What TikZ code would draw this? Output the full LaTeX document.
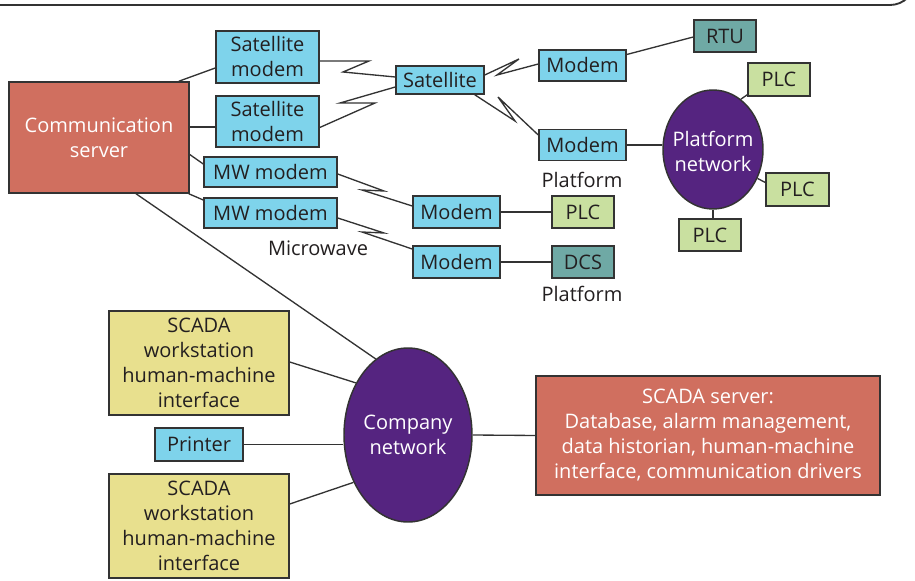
\documentclass[tikz,border=0pt]{standalone}
\usepackage{fontspec}
\setmainfont{Open Sans}
\usetikzlibrary{shapes.geometric,calc}
\definecolor{coral}{HTML}{D06F5F}
\definecolor{lblue}{HTML}{7ED3EB}
\definecolor{purp}{HTML}{552480}
\definecolor{ylw}{HTML}{E8E08E}
\definecolor{lgrn}{HTML}{C9E0A0}
\definecolor{teal2}{HTML}{6FA9A5}
\definecolor{edge}{HTML}{333333}
\definecolor{ink}{HTML}{231F20}
\begin{document}
\begin{tikzpicture}[x=0.75pt,y=-0.75pt,
  sz/.style 2 args={minimum width=#1*0.75pt, minimum height=#2*0.75pt},
  box/.style={draw=edge, line width=1.1pt, inner sep=0pt, align=center, text=ink,
    font=\fontsize{15}{18.75}\selectfont},
  bluebox/.style={box, fill=lblue},
  corbox/.style={box, fill=coral, text=white},
  ylwbox/.style={box, fill=ylw},
  grnbox/.style={box, fill=lgrn},
  tealbox/.style={box, fill=teal2},
  net/.style={ellipse, draw=edge, line width=1.1pt, fill=purp, inner sep=0pt},
  nettext/.style={text=white, inner sep=0pt, align=center, font=\fontsize{15}{18.75}\selectfont},
  lbl/.style={text=ink, inner sep=0pt, font=\fontsize{15}{18.75}\selectfont},
  link/.style={draw=edge, line width=1pt, line join=miter}]
\useasboundingbox (0,0) rectangle (915,581);
% frame
\draw[edge, line width=1.4pt] (-5,5) -- (890,5) arc[start angle=90, end angle=0, radius=25];

% nodes
\node[corbox, sz={180}{111}] (comm) at (99,137.5) {Communication\\server};
\node[bluebox, sz={103}{52}] (sm1) at (267.5,57) {Satellite\\modem};
\node[bluebox, sz={103}{51}] (sm2) at (267.5,121.5) {Satellite\\modem};
\node[bluebox, sz={133}{30}] (mw1) at (270.5,172) {MW modem};
\node[bluebox, sz={133}{30}] (mw2) at (270.5,213) {MW modem};
\node[bluebox, sz={88}{28}] (sat) at (440,80) {Satellite};
\node[bluebox, sz={87}{31}] (mtop) at (582.5,65.5) {Modem};
\node[bluebox, sz={87}{31}] (mmid) at (582.5,145) {Modem};
\node[tealbox, sz={62}{32}] (rtu) at (725,36) {RTU};
\node[grnbox, sz={62}{33}] (plc1) at (779,79.5) {PLC};
\node[net, sz={100}{119}] (pnet) at (713,149.5) {};
\node[nettext] (pnettext) at (713,151) {Platform\\network};
\node[grnbox, sz={63}{33}] (plc2) at (797.5,189.5) {PLC};
\node[grnbox, sz={62}{32}] (plc3) at (710,235) {PLC};
\node[lbl] (plat1) at (582,180) {Platform};
\node[bluebox, sz={87}{32}] (m3) at (456.5,212) {Modem};
\node[grnbox, sz={62}{32}] (plcA) at (583,212) {PLC};
\node[bluebox, sz={87}{32}] (m4) at (456.5,262) {Modem};
\node[tealbox, sz={62}{32}] (dcs) at (583,262) {DCS};
\node[lbl] (plat2) at (582,294) {Platform};
\node[lbl] (micro) at (318,248) {Microwave};

\node[net, sz={128}{174}] (company) at (408,435) {};
\node[nettext] (companytext) at (408,435) {Company\\network};
\node[ylwbox, sz={180}{104}] (ws1) at (199,363) {SCADA\\workstation\\human-machine\\interface};
\node[bluebox, sz={88}{33}] (printer) at (199,444.5) {Printer};
\node[ylwbox, sz={180}{104}] (ws2) at (199,526) {SCADA\\workstation\\human-machine\\interface};
\node[corbox, sz={344}{119}] (server) at (708,435.5) {SCADA server:\\Database, alarm management,\\data historian, human-machine\\interface, communication drivers};

% connectors from communication server
\draw[link] ($(comm.north east)+(-11,0)$) -- ($(sm1.west)+(0,11)$);
\coordinate (c2) at ($(sm2.west)+(0,5.5)$);
\draw[link] (comm.east |- c2) -- (c2);
\draw[link] ($(comm.east)+(0,17)$) -- ($(mw1.west)+(0,-8)$);
\draw[link] ($(comm.south east)+(-1,0)$) -- ($(mw2.west)+(0,-13)$);
\draw[link] ($(comm.south)+(37,0)$) -- (company.113);

% satellite links (zigzag)
\draw[link] ($(sm1.east)+(0,4)$) -- (369,61) -- (343,72) -- ($(sat.west)+(0,-3)$);
\draw[link] ($(sm2.east)+(0,6)$) -- (375,103) -- (340,103) -- ($(sat.west)+(0,7)$);
\draw[link] ($(sat.east)+(0,-5)$) -- (519,59) -- (497,75) -- ($(mtop.west)+(0,-1.5)$);
\draw[link] ($(sat.south east)+(-10,0)$) -- (515,121) -- (498,97) -- ($(mmid.west)+(0,-10)$);

% microwave links (zigzag)
\draw[link] ($(mw1.east)+(0,2)$) -- (384,191) -- (362,190) -- ($(m3.west)+(0,-6)$);
\draw[link] ($(mw2.east)+(0,5)$) -- (384,233) -- (362,232) -- ($(m4.west)+(0,-13)$);

% platform side
\draw[link] ($(mtop.east)+(0,-11)$) -- ($(rtu.west)+(0,1)$);
\draw[link] (mmid.east) -- (mmid.east -| pnet.west);
\draw[link] (pnet.61) -- ($(plc1.south west)+(0,-2)$);
\draw[link] (pnet.-33) -- ($(plc2.west)+(0,-7)$);
\draw[link] (pnet.south) -- (pnet.south |- plc3.north);
\draw[link] (m3.east) -- (plcA.west);
\draw[link] (m4.east) -- (dcs.west);

% company network
\draw[link] ($(ws1.east)+(0,-1)$) -- (company.135);
\draw[link] (printer.east) -- (company.west |- printer.east);
\draw[link] ($(ws2.east)+(0,-22)$) -- (company.221);
\draw[link] (company.east) -- (server.west);
\end{tikzpicture}
\end{document}
